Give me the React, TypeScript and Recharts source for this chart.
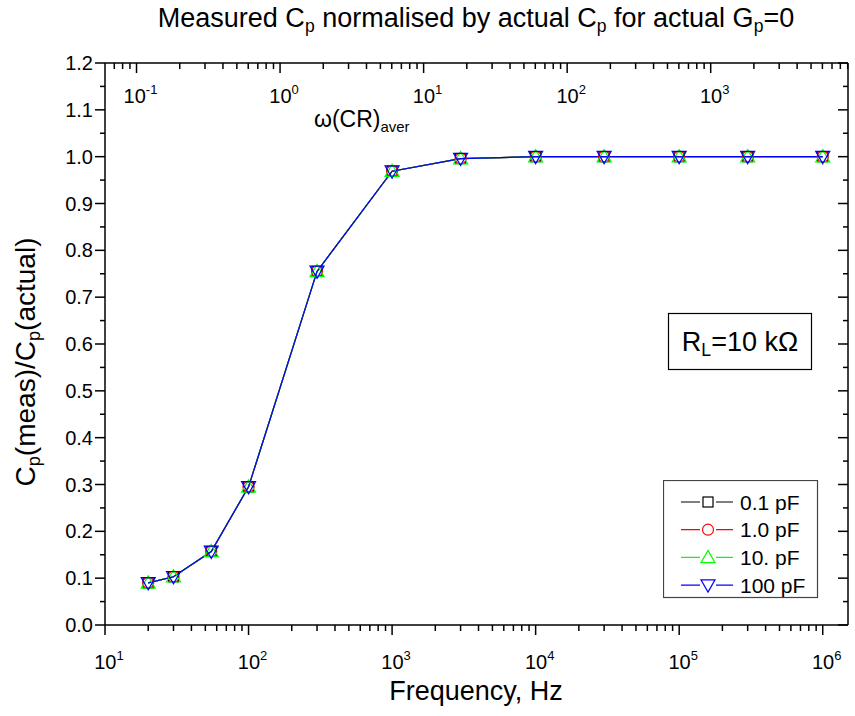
import React from "react";
import { LineChart, Line, XAxis, YAxis, Legend } from "recharts";

// measured points, Hz
const freqHz = [20, 30, 55, 100, 300, 1000, 3000, 10000, 30000, 100000, 300000, 1000000];
// Cp(meas)/Cp(actual) per source capacitance
const cp01pF = [0.09, 0.103, 0.157, 0.295, 0.755, 0.969, 0.996, 1.0, 1.0, 1.0, 1.0, 1.0];
const cp1pF = [0.09, 0.103, 0.157, 0.295, 0.755, 0.969, 0.996, 1.0, 1.0, 1.0, 1.0, 1.0];
const cp10pF = [0.09, 0.103, 0.157, 0.295, 0.755, 0.969, 0.996, 1.0, 1.0, 1.0, 1.0, 1.0];
const cp100pF = [0.09, 0.103, 0.157, 0.295, 0.755, 0.969, 0.996, 1.0, 1.0, 1.0, 1.0, 1.0];

const seriesNames = ["0.1 pF", "1.0 pF", "10. pF", "100 pF"];
const seriesKeys = ["c01", "c1", "c10", "c100"];
const seriesColors = ["#000000", "#ff0000", "#00ff00", "#0000ff"];
const seriesMarks = ["square", "circle", "up", "down"];

// ω(CR)aver per Hz (top axis)
const omegaPerHz = 1 / 165.8;

const freqDomain = [10, 1.5e6];
const yTicks = [0, 0.1, 0.2, 0.3, 0.4, 0.5, 0.6, 0.7, 0.8, 0.9, 1.0, 1.1, 1.2];

const FONT = "'Liberation Sans', Arial, sans-serif";

const data = freqHz.map((f, i) => ({
  f,
  w: f * omegaPerHz,
  c01: cp01pF[i],
  c1: cp1pF[i],
  c10: cp10pF[i],
  c100: cp100pF[i],
}));

const omegaDomain = [freqDomain[0] * omegaPerHz, freqDomain[1] * omegaPerHz];

function logTicks(lo: number, hi: number) {
  const out: number[] = [];
  for (let e = Math.floor(Math.log10(lo)); e <= Math.ceil(Math.log10(hi)); e++) {
    for (let m = 1; m <= 9; m++) {
      const v = m * Math.pow(10, e);
      if (v >= lo * 0.999 && v <= hi * 1.001) out.push(v);
    }
  }
  return out;
}

const yMinor = yTicks.slice(0, -1).map((t) => +(t + 0.05).toFixed(2));
const yAll = [...yTicks, ...yMinor].sort((a, b) => a - b);

const isDecade = (v: number) => Math.abs(Math.log10(v) - Math.round(Math.log10(v))) < 1e-6;
const isMajorY = (v: number) => yTicks.some((t) => Math.abs(t - v) < 1e-6);

const Pow = ({ x, y, exp }: { x: number; y: number; exp: number }) => (
  <text x={x} y={y} textAnchor="middle" fontSize={20} fontFamily={FONT} fill="#000">
    10
    <tspan dy={-9} fontSize={13}>
      {exp}
    </tspan>
  </text>
);

const BottomTick = (p: any) => {
  const v = p.payload.value;
  const major = isDecade(v);
  return (
    <g>
      <line x1={p.x} x2={p.x} y1={p.y} y2={p.y + (major ? 10 : 6)} stroke="#000" strokeWidth={1.5} />
      {major && <Pow x={p.x + 4} y={p.y + 44} exp={Math.round(Math.log10(v))} />}
    </g>
  );
};

const TopTick = (p: any) => {
  const v = p.payload.value;
  const major = isDecade(v);
  return (
    <g>
      <line x1={p.x} x2={p.x} y1={p.y} y2={p.y + (major ? 10 : 6)} stroke="#000" strokeWidth={1.5} />
      {major && <Pow x={p.x + 4} y={p.y + 40} exp={Math.round(Math.log10(v))} />}
    </g>
  );
};

const LeftTick = (p: any) => {
  const v = p.payload.value;
  const major = isMajorY(v);
  return (
    <g>
      <line x1={p.x - (major ? 10 : 5)} x2={p.x} y1={p.y} y2={p.y} stroke="#000" strokeWidth={1.5} />
      {major && (
        <text x={p.x - 12} y={p.y + 7} textAnchor="end" fontSize={20} fontFamily={FONT} fill="#000">
          {v.toFixed(1)}
        </text>
      )}
    </g>
  );
};

const RightTick = (p: any) => {
  const major = isMajorY(p.payload.value);
  return <line x1={p.x - (major ? 10 : 5)} x2={p.x} y1={p.y} y2={p.y} stroke="#000" strokeWidth={1.5} />;
};

const Mark = ({ cx, cy, kind, color }: { cx: number; cy: number; kind: string; color: string }) => {
  if (cx == null || cy == null) return null;
  const h = 7;
  const common = { fill: "none", stroke: color, strokeWidth: 1.2 };
  if (kind === "square") return <rect x={cx - 5} y={cy - 5} width={10} height={10} {...common} />;
  if (kind === "circle") return <circle cx={cx} cy={cy} r={5.5} {...common} />;
  if (kind === "up")
    return <polygon points={`${cx},${cy - h} ${cx + h},${cy + h * 0.75} ${cx - h},${cy + h * 0.75}`} {...common} />;
  return <polygon points={`${cx},${cy + h} ${cx + h},${cy - h * 0.75} ${cx - h},${cy - h * 0.75}`} {...common} />;
};

const LegendBox = () => (
  <svg width={156} height={119} style={{ display: "block" }}>
    <rect x={0.5} y={0.5} width={154} height={117} fill="#fff" stroke="#444" strokeWidth={1.2} />
    {seriesNames.map((name, i) => {
      const y = 22 + i * 27.7;
      return (
        <g key={name}>
          <line x1={18} x2={70} y1={y} y2={y} stroke={seriesColors[i]} strokeWidth={1.2} />
          <rect x={37} y={y - 8} width={16} height={16} fill="#fff" />
          <Mark cx={45} cy={y} kind={seriesMarks[i]} color={seriesColors[i]} />
          <text x={77} y={y + 7.5} fontSize={21} fontFamily={FONT} fill="#000">
            {name}
          </text>
        </g>
      );
    })}
  </svg>
);

const Sub = ({ children }: { children: React.ReactNode }) => (
  <tspan baselineShift="-30%" fontSize="65%">
    {children}
  </tspan>
);

const axisStroke = { stroke: "#000", strokeWidth: 1.5 };

export default function App() {
  return (
    <div style={{ position: "relative", width: 855, height: 716, background: "#fff", fontFamily: FONT }}>
      <style>{"body{margin:0}"}</style>
      <LineChart width={855} height={716} data={data} margin={{ top: 62, right: 6, bottom: 90, left: 104 }}>
        <XAxis
          xAxisId="bottom"
          dataKey="f"
          type="number"
          scale="log"
          domain={freqDomain}
          allowDataOverflow
          ticks={logTicks(freqDomain[0], freqDomain[1])}
          interval={0}
          height={1}
          tickSize={0}
          tickMargin={0}
          tick={BottomTick}
          axisLine={axisStroke}
        />
        <XAxis
          xAxisId="top"
          orientation="top"
          dataKey="w"
          type="number"
          scale="log"
          domain={omegaDomain}
          allowDataOverflow
          ticks={logTicks(omegaDomain[0], omegaDomain[1])}
          interval={0}
          height={1}
          tickSize={0}
          tickMargin={0}
          tick={TopTick}
          axisLine={axisStroke}
        />
        <YAxis
          yAxisId="left"
          type="number"
          domain={[0, 1.2]}
          allowDataOverflow
          ticks={yAll}
          interval={0}
          width={1}
          tickSize={0}
          tickMargin={0}
          tick={LeftTick}
          axisLine={axisStroke}
        />
        <YAxis
          yAxisId="right"
          orientation="right"
          type="number"
          domain={[0, 1.2]}
          allowDataOverflow
          ticks={yAll}
          interval={0}
          width={1}
          tickSize={0}
          tickMargin={0}
          tick={RightTick}
          axisLine={axisStroke}
        />
        {/* invisible series so the top and right axes get scales */}
        <Line
          xAxisId="top"
          yAxisId="right"
          dataKey="c100"
          stroke="none"
          dot={false}
          legendType="none"
          isAnimationActive={false}
        />
        {seriesKeys.map((k, i) => (
          <Line
            key={k}
            xAxisId="bottom"
            yAxisId="left"
            dataKey={k}
            name={seriesNames[i]}
            type="linear"
            stroke={seriesColors[i]}
            strokeWidth={1.2}
            isAnimationActive={false}
            dot={(p: any) => <Mark key={`${k}-${p.index}`} cx={p.cx} cy={p.cy} kind={seriesMarks[i]} color={seriesColors[i]} />}
          />
        ))}
        <Legend
          layout="horizontal"
          verticalAlign="middle"
          align="center"
          content={() => <LegendBox />}
          wrapperStyle={{ left: 663, top: 480, width: 156, height: 119 }}
        />
      </LineChart>

      <svg
        width={855}
        height={716}
        style={{ position: "absolute", left: 0, top: 0, pointerEvents: "none" }}
        fontFamily={FONT}
      >
        <text x={476} y={27} textAnchor="middle" fontSize={27} fill="#000">
          Measured C<Sub>p</Sub>
          <tspan> normalised by actual C</tspan>
          <Sub>p</Sub>
          <tspan> for actual G</tspan>
          <Sub>p</Sub>
          <tspan>=0</tspan>
        </text>
        <text x={476} y={700} textAnchor="middle" fontSize={27} fill="#000">
          Frequency, Hz
        </text>
        <text transform="translate(35,362) rotate(-90)" textAnchor="middle" fontSize={28} fill="#000">
          C<Sub>p</Sub>
          <tspan>(meas)/C</tspan>
          <Sub>p</Sub>
          <tspan>(actual)</tspan>
        </text>
        <text x={314} y={127} fontSize={23} fill="#000">
          ω(CR)<Sub>aver</Sub>
        </text>
        <rect x={668.5} y={313.5} width={143} height={56} fill="#fff" stroke="#000" strokeWidth={1.2} />
        <text x={740} y={351} textAnchor="middle" fontSize={27} fill="#000">
          R<Sub>L</Sub>
          <tspan>=10 kΩ</tspan>
        </text>
      </svg>
    </div>
  );
}
